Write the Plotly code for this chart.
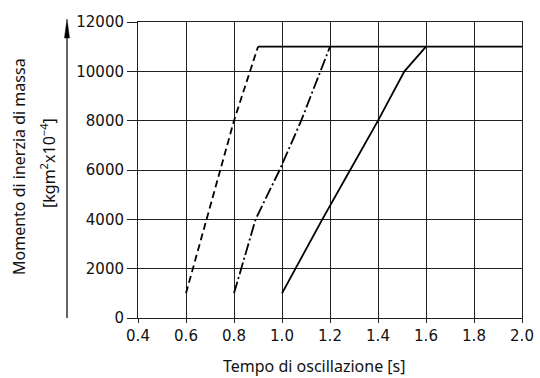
import plotly.graph_objects as go

# Data
dash_x = [0.6, 0.8, 0.9]
dash_y = [1000, 8000, 11000]

dashdot_x = [0.8, 0.83, 0.89, 0.99, 1.08, 1.16, 1.2]
dashdot_y = [1000, 2000, 4000, 6000, 8000, 10000, 11000]

solid_x = [1.0, 1.056, 1.168, 1.284, 1.40, 1.51, 1.6]
solid_y = [1000, 2000, 4000, 6000, 8000, 10000, 11000]

limit_x = [0.9, 2.0]
limit_y = [11000, 11000]

x_ticks = [0.4, 0.6, 0.8, 1.0, 1.2, 1.4, 1.6, 1.8, 2.0]
y_ticks = [0, 2000, 4000, 6000, 8000, 10000, 12000]

TICK_FONT = "DejaVu Sans"
FONT = "Noto Sans"
W, H = 540, 378
L, R, T, B = 138, 18, 22, 60
PW, PH = W - L - R, H - T - B

def px(xp):
    return (xp - L) / PW

def py(yp):
    return (H - B - yp) / PH

fig = go.Figure()
fig.add_trace(go.Scatter(x=limit_x, y=limit_y, mode="lines",
                         line=dict(color="black", width=1.8), showlegend=False))
fig.add_trace(go.Scatter(x=dash_x, y=dash_y, mode="lines",
                         line=dict(color="black", width=1.8, dash="7px,4px"), showlegend=False))
fig.add_trace(go.Scatter(x=dashdot_x, y=dashdot_y, mode="lines",
                         line=dict(color="black", width=1.8, dash="12px,3px,2px,3px"), showlegend=False))
fig.add_trace(go.Scatter(x=solid_x, y=solid_y, mode="lines",
                         line=dict(color="black", width=1.8), showlegend=False))

fig.update_xaxes(range=[0.4, 2.0], tickvals=x_ticks,
                 ticktext=[f"{v:.1f}" for v in x_ticks],
                 showgrid=True, gridcolor="#222", gridwidth=1,
                 showline=True, linecolor="#222", linewidth=1, mirror=True,
                 ticks="outside", ticklen=4, tickcolor="#222",
                 zeroline=False, tickfont=dict(family=TICK_FONT, size=15, color="#111"))
fig.update_yaxes(range=[0, 12000], tickvals=y_ticks,
                 ticktext=[str(v) for v in y_ticks],
                 showgrid=True, gridcolor="#222", gridwidth=1,
                 showline=True, linecolor="#222", linewidth=1, mirror=True,
                 ticks="outside", ticklen=10, tickcolor="#222",
                 zeroline=False, tickfont=dict(family=TICK_FONT, size=15, color="#111"))

shapes = [
    dict(type="line", xref="paper", yref="paper",
         x0=px(67), x1=px(67), y0=py(318), y1=py(36),
         line=dict(color="#333", width=1.5)),
    dict(type="path", xref="paper", yref="paper",
         path=f"M {px(67)} {py(19)} L {px(64.5)} {py(38)} L {px(69.5)} {py(38)} Z",
         fillcolor="black", line=dict(color="black", width=0.5)),
]

annotations = [
    dict(text="Momento di inerzia di massa", xref="paper", yref="paper",
         x=px(19), y=py(167), xanchor="center", yanchor="middle",
         textangle=-90, showarrow=False,
         font=dict(family=FONT, size=16, color="#111")),
    dict(text="[kgm<sup>2</sup>x10<sup>−4</sup>]", xref="paper", yref="paper",
         x=px(48), y=py(163), xanchor="center", yanchor="middle",
         textangle=-90, showarrow=False,
         font=dict(family=FONT, size=16, color="#111")),
    dict(text="Tempo di oscillazione [s]", xref="paper", yref="paper",
         x=px(314), y=py(366), xanchor="center", yanchor="middle",
         showarrow=False,
         font=dict(family=FONT, size=16, color="#111")),
]

fig.update_layout(width=W, height=H, margin=dict(l=L, r=R, t=T, b=B, autoexpand=False),
                  plot_bgcolor="white", paper_bgcolor="white",
                  shapes=shapes, annotations=annotations,
                  font=dict(family=FONT))

fig.write_html("out.html", config={"displayModeBar": False},
               post_script="document.body.style.margin='0';document.body.style.padding='0';")
